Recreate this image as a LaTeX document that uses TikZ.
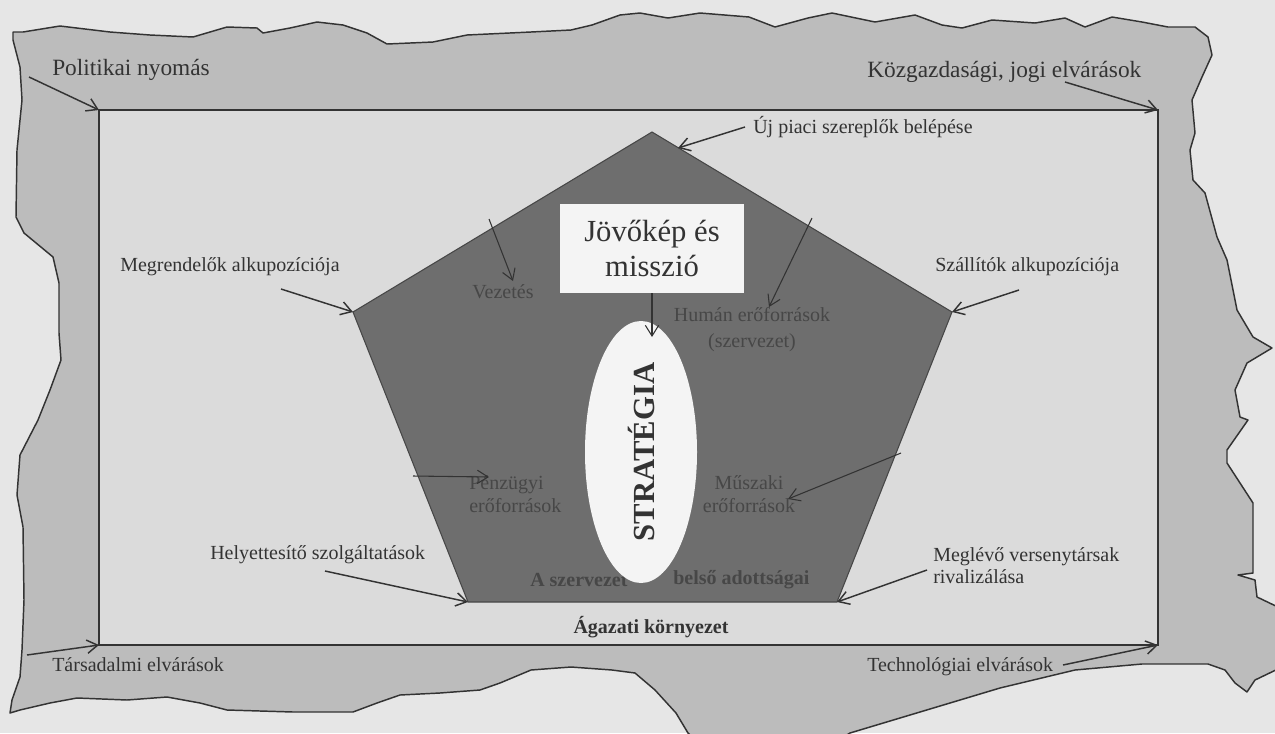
\documentclass[tikz,border=0pt]{standalone}
\usepackage{fontspec}
\setmainfont{Liberation Serif}
\usepackage{xcolor}
\usetikzlibrary{arrows.meta,shapes.geometric}

\definecolor{pagegray}{HTML}{E6E6E6}
\definecolor{torngray}{HTML}{BCBCBC}
\definecolor{envgray}{HTML}{DBDBDB}
\definecolor{coregray}{HTML}{6E6E6E}
\definecolor{inkgray}{HTML}{333333}
\definecolor{dimink}{HTML}{474747}
\definecolor{paper}{HTML}{F4F4F4}

\begin{document}
\begin{tikzpicture}[
    x=0.75pt, y=-0.75pt,
    forcelabel/.style={%
      font=\fontsize{15}{17}\selectfont,
      text=inkgray,
      inner sep=0pt,
    },
    bigforce/.style={forcelabel, font=\fontsize{17.5}{20}\selectfont},
    inlabel/.style={forcelabel, text=dimink},
    push/.style={-{Straight Barb[length=8pt,width=10pt]}, draw=inkgray, line width=1.1pt},
    thinpush/.style={push, line width=0.8pt},
  ]

    \useasboundingbox (0,0) rectangle (1275,733);
    \fill [pagegray] (0,0) rectangle (1275,733);

    % torn sheet
    \begin{scope}
      \clip (0,0) rectangle (1275,733);
      \filldraw [fill=torngray, draw=inkgray, line width=1.1pt, line join=round]
        (13,32) -- (23,32) -- (60,26) -- (110,32) -- (150,35) -- (193,37) -- (227,27)
        -- (257,28) -- (263,33) -- (290,28) -- (317,22) -- (343,25) -- (367,33)
        -- (387,44) -- (433,42) -- (467,35) -- (531,32) -- (571,30) -- (592,25)
        -- (620,15) -- (640,13) -- (668,18) -- (700,13) -- (749,17) -- (775,27)
        -- (808,18) -- (832,13) -- (875,22) -- (915,15) -- (942,25) -- (962,28)
        -- (992,20) -- (1035,23) -- (1065,18) -- (1085,27) -- (1112,17) -- (1142,22)
        -- (1168,27) -- (1195,27) -- (1208,37) -- (1212,55) -- (1202,77) -- (1192,100)
        -- (1195,133) -- (1190,150) -- (1193,180) -- (1205,193) -- (1217,237)
        -- (1227,260) -- (1237,310) -- (1253,337) -- (1272,348) -- (1247,363)
        -- (1235,390) -- (1240,417) -- (1248,420) -- (1227,450) -- (1227,463)
        -- (1253,503) -- (1253,573) -- (1238,575) -- (1255,580) -- (1257,597)
        -- (1280,608) -- (1290,640) -- (1280,668) -- (1255,680) -- (1247,692)
        -- (1235,683) -- (1225,670) -- (1208,664) -- (1142,664) -- (1075,670)
        -- (1000,688) -- (920,712) -- (850,733) -- (830,745) -- (700,745)
        -- (688,733) -- (676,713) -- (655,690) -- (635,673) -- (612,670)
        -- (571,667) -- (531,670) -- (500,683) -- (480,690) -- (440,693)
        -- (400,695) -- (377,703) -- (353,712) -- (293,712) -- (227,710)
        -- (200,703) -- (167,697) -- (127,700) -- (77,698) -- (50,703) -- (20,710)
        -- (10,713) -- (12,700) -- (20,677) -- (22,650) -- (24,600) -- (23,527)
        -- (17,495) -- (20,455) -- (38,420) -- (50,390) -- (61,360) -- (59,333)
        -- (59,283) -- (53,257) -- (24,233) -- (16,217) -- (17,150) -- (22,100)
        -- (20,67) -- (13,40) -- cycle;
    \end{scope}

    % industry frame
    \coordinate (envNW) at (99,110);
    \coordinate (envNE) at (1158,110);
    \coordinate (envSW) at (99,645);
    \coordinate (envSE) at (1158,645);
    \filldraw [fill=envgray, draw=inkgray, line width=1.1pt] (envNW) rectangle (envSE);

    % inner pentagon
    \coordinate (pTop) at (652,132);
    \coordinate (pLeft) at (353,312);
    \coordinate (pBotL) at (468,602);
    \coordinate (pBotR) at (837,602);
    \coordinate (pRight) at (952,312);
    \filldraw [fill=coregray, draw=inkgray!90, line width=0.8pt]
      (pTop) -- (pLeft) -- (pBotL) -- (pBotR) -- (pRight) -- cycle;

    \node [inlabel] (lead) at (503,292) {Vezetés};
    \node [inlabel, align=center, font=\fontsize{15}{19.5}\selectfont] (human) at (752,330)
      {Humán erőforrások\\(szervezet)};
    \node [inlabel, align=left, anchor=west, font=\fontsize{15}{17}\selectfont] (money) at (469,494)
      {Pénzügyi\\erőforrások};
    \node [inlabel, align=center, font=\fontsize{15}{17}\selectfont] (tech) at (749,494)
      {Műszaki\\erőforrások};
    \node [inlabel, anchor=west, font=\bfseries\fontsize{15}{17}\selectfont] (orgA) at (530,580) {A szervezet};
    \node [inlabel, anchor=west, font=\bfseries\fontsize{15}{17}\selectfont] (orgB) at (673,580) {belső adottságai};

    \node [fill=paper, minimum width=138pt, minimum height=66.75pt, inner sep=0pt,
      align=center, text=inkgray, font=\fontsize{23}{26}\selectfont] (vision) at (652,248.5)
      {Jövőkép és\\misszió};
    \node [ellipse, rotate=90, fill=paper, minimum width=196.5pt, minimum height=84pt,
      inner sep=0pt, text=inkgray, font=\bfseries\fontsize{23}{26}\selectfont] (strat) at (641,452)
      {STRATÉGIA};

    \node [forcelabel, font=\bfseries\fontsize{15}{17}\selectfont] (sector) at (651,627) {Ágazati környezet};

    % inner arrows
    \coordinate (leadTail) at (489,219);
    \coordinate (leadTip) at (513,281);
    \coordinate (humanTail) at (812,218);
    \coordinate (humanTip) at (769,307);
    \coordinate (moneyTail) at (413,476);
    \coordinate (moneyTip) at (489,477);
    \coordinate (techTail) at (901,453);
    \coordinate (techTip) at (788,499);
    \coordinate (visionTip) at (652,337);
    \draw [thinpush] (leadTail) -- (leadTip);
    \draw [thinpush] (humanTail) -- (humanTip);
    \draw [thinpush] (moneyTail) -- (moneyTip);
    \draw [thinpush] (techTail) -- (techTip);
    \draw [thinpush] (vision.south) -- (visionTip);

    % outer forces
    \node [bigforce, anchor=west] (polit) at (52,70) {Politikai nyomás};
    \node [bigforce, anchor=west] (econ) at (867,72) {Közgazdasági, jogi elvárások};
    \node [forcelabel, anchor=west] (entrant) at (753,127) {Új piaci szereplők belépése};
    \node [forcelabel, anchor=west] (buyer) at (120,267) {Megrendelők alkupozíciója};
    \node [forcelabel, anchor=west] (supplier) at (935,267) {Szállítók alkupozíciója};
    \node [forcelabel, anchor=west] (substitute) at (210,555) {Helyettesítő szolgáltatások};
    \node [forcelabel, anchor=west, align=left, font=\fontsize{15}{16.5}\selectfont] (rival) at (933,566)
      {Meglévő versenytársak\\rivalizálása};
    \node [forcelabel, anchor=west] (social) at (52,665) {Társadalmi elvárások};
    \node [forcelabel, anchor=west] (techno) at (867,667) {Technológiai elvárások};

    \coordinate (politTail) at (29,77);
    \coordinate (econTail) at (1065,82);
    \coordinate (entrantTail) at (745,127);
    \coordinate (entrantTip) at (678,148);
    \coordinate (buyerTail) at (281,289);
    \coordinate (supplierTail) at (1019,290);
    \coordinate (substituteTail) at (325,571);
    \coordinate (rivalTail) at (927,570);
    \coordinate (socialTail) at (27,655);
    \coordinate (technoTail) at (1063,665);

    \draw [push] (politTail) -- (envNW);
    \draw [push] (econTail) -- (envNE);
    \draw [push] (entrantTail) -- (entrantTip);
    \draw [push] (buyerTail) -- (pLeft);
    \draw [push] (supplierTail) -- (pRight);
    \draw [push] (substituteTail) -- (pBotL);
    \draw [push] (rivalTail) -- (pBotR);
    \draw [push] (socialTail) -- (envSW);
    \draw [push] (technoTail) -- (envSE);
\end{tikzpicture}
\end{document}
